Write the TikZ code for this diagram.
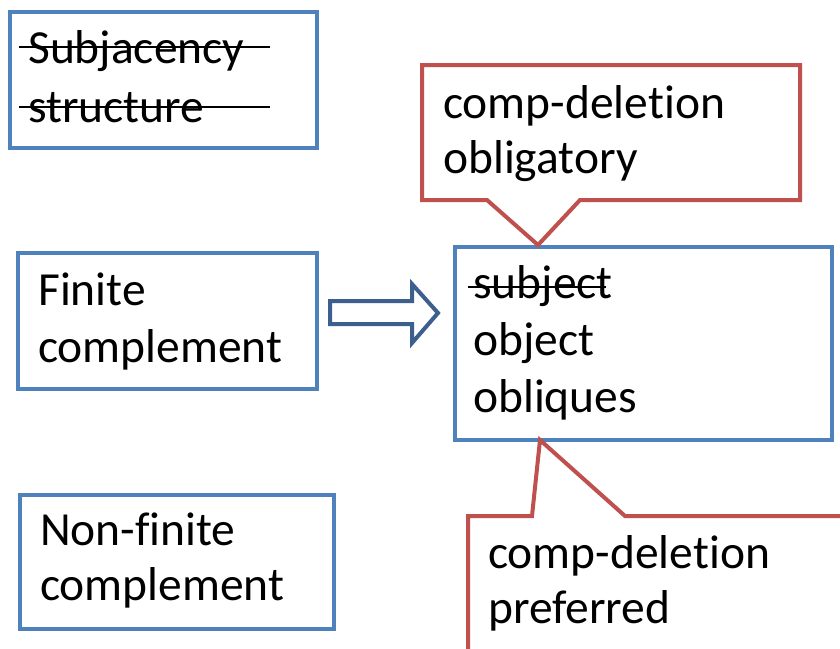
\documentclass[tikz,border=0pt]{standalone}
\usepackage{fontspec}
\setmainfont{Carlito}[Ligatures={NoCommon,NoContextual}]
\definecolor{boxblue}{HTML}{4F81BD}
\definecolor{calred}{HTML}{C0504D}
\definecolor{arrowblue}{HTML}{3C5F8E}
\begin{document}
\begin{tikzpicture}[x=1pt,y=-1pt,
  bluebox/.style={draw=boxblue,line width=4pt,rectangle,inner sep=0pt,anchor=north west},
  txt/.style={anchor=base west,inner sep=0pt,font=\fontsize{47.5}{57}\selectfont},
  strike/.style={draw=black,line width=2pt},
  callout/.style={draw=calred,line width=4pt,fill=white,line join=miter}]
\useasboundingbox (0,0) rectangle (840,648);
\clip (0,0) rectangle (840,648);
\fill[white] (0,0) rectangle (840,648);

% boxes
\node[bluebox,minimum width=307pt,minimum height=136pt] (sub) at (8,10) {};
\node[bluebox,minimum width=299pt,minimum height=136pt] (fin) at (16,251) {};
\node[bluebox,minimum width=314pt,minimum height=134pt] (non) at (18,493) {};
\node[bluebox,minimum width=377pt,minimum height=193pt] (ctr) at (453,245) {};

% texts
\node[txt] (t1) at (28,63) {Subjacency};
\node[txt] (t2) at (28,122) {structure};
\draw[strike] (19,47) -- (270,47);
\draw[strike] (19,107) -- (270,107);

\node[txt] (f1) at (38,305) {Finite};
\node[txt] (f2) at (38,362) {complement};

\node[txt] (n1) at (40,545) {Non-finite};
\node[txt] (n2) at (40,600) {complement};

\node[txt] (c1) at (473,298) {subject};
\node[txt] (c2) at (473,355) {object};
\node[txt] (c3) at (473,412) {obliques};
\draw[strike] (468,287) -- (606,287);

% block arrow
\draw[arrowblue,line width=4pt,line join=miter,fill=white]
  (330,301) -- (412,301) -- (412,284) -- (438,313) -- (412,343) -- (412,324) -- (330,324) -- cycle;

% top callout
\coordinate (tiptop) at (538,245);
\draw[callout] (422,65) -- (800,65) -- (800,200) -- (580,200) -- (tiptop) -- (487,200) -- (422,200) -- cycle;
\node[txt] (o1) at (443,118) {comp-deletion};
\node[txt] (o2) at (443,173) {obligatory};

% bottom callout
\coordinate (tipbot) at (540,440);
\draw[callout] (468,700) -- (468,516) -- (532,516) -- (tipbot) -- (625,516) -- (860,516);
\node[txt] (p1) at (488,568) {comp-deletion};
\node[txt] (p2) at (488,623) {preferred};
\end{tikzpicture}
\end{document}
